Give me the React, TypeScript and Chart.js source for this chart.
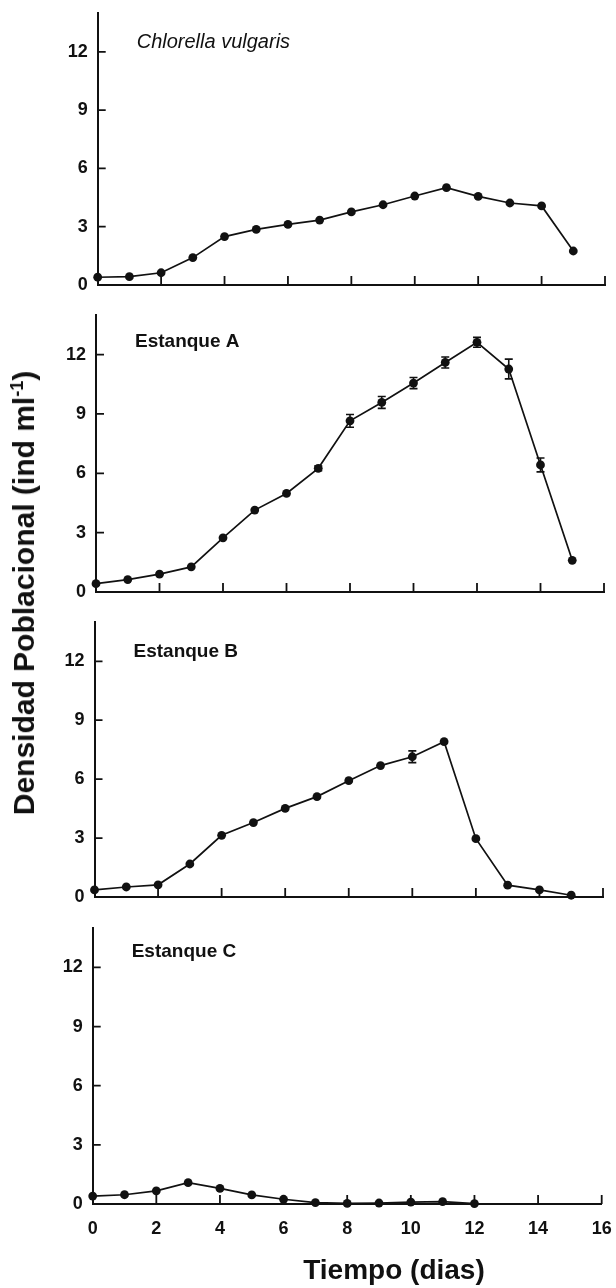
import React, { useEffect, useRef } from "react";
import { Chart, registerables } from "chart.js";

Chart.register(...registerables);

// ---------------- data ----------------
const days = [0, 1, 2, 3, 4, 5, 6, 7, 8, 9, 10, 11, 12, 13, 14, 15];
const daysC = [0, 1, 2, 3, 4, 5, 6, 7, 8, 9, 10, 11, 12];

const chlorellaValues = [0.4, 0.43, 0.63, 1.41, 2.49, 2.86, 3.12, 3.34, 3.76, 4.13, 4.58, 5.01, 4.56, 4.22, 4.07, 1.75];
const estanqueAValues = [0.42, 0.63, 0.9, 1.27, 2.74, 4.14, 4.98, 6.25, 8.65, 9.58, 10.56, 11.6, 12.62, 11.27, 6.42, 1.6];
const estanqueAErrors = [0, 0, 0, 0, 0, 0, 0, 0.12, 0.32, 0.3, 0.28, 0.28, 0.25, 0.5, 0.35, 0];
const estanqueBValues = [0.36, 0.51, 0.62, 1.68, 3.14, 3.79, 4.51, 5.11, 5.92, 6.69, 7.14, 7.91, 2.97, 0.6, 0.36, 0.09];
const estanqueBErrors = [0, 0, 0, 0, 0, 0, 0, 0, 0, 0, 0.3, 0, 0, 0, 0, 0];
const estanqueCValues = [0.4, 0.47, 0.67, 1.08, 0.79, 0.46, 0.24, 0.07, 0.03, 0.05, 0.1, 0.12, 0.02];

const xTickValues = [0, 2, 4, 6, 8, 10, 12, 14, 16];
const yTickValues = [0, 3, 6, 9, 12];
const xMax = 16;
const yMax = 14;

const panelLabels = ["Chlorella vulgaris", "Estanque A", "Estanque B", "Estanque C"];
const xTitle = "Tiempo (dias)";
const yTitleMain = "Densidad Poblacional (ind ml";
const yTitleSup = "-1";

// ---------------- style ----------------
const INK = "#111111";
const FAMILY = "'Liberation Sans', Arial, Helvetica, sans-serif";
const CANVAS_W = 660;

type PanelCfg = {
  xs: number[];
  values: number[];
  errors: number[] | null;
  label: string;
  italic: boolean;
  areaTop: number;
  areaBottom: number;
  left: number;
  right: number;
  labelDy: number;
  showX: boolean;
};

const panels: PanelCfg[] = [
  { xs: days, values: chlorellaValues, errors: null, label: panelLabels[0], italic: true, areaTop: 13, areaBottom: 285, left: 97.7, right: 605, labelDy: 29, showX: false },
  { xs: days, values: estanqueAValues, errors: estanqueAErrors, label: panelLabels[1], italic: false, areaTop: 315, areaBottom: 592, left: 96, right: 604, labelDy: 27, showX: false },
  { xs: days, values: estanqueBValues, errors: estanqueBErrors, label: panelLabels[2], italic: false, areaTop: 622, areaBottom: 897, left: 94.5, right: 603, labelDy: 30, showX: false },
  { xs: daysC, values: estanqueCValues, errors: null, label: panelLabels[3], italic: false, areaTop: 928, areaBottom: 1204, left: 92.7, right: 601.7, labelDy: 24, showX: true },
];

const decorPlugin = {
  id: "decor",
  beforeDatasetsDraw(chart: any, _args: any, opts: any) {
    const { ctx, chartArea: ca } = chart;
    const x = chart.scales.x;
    const y = chart.scales.y;
    ctx.save();
    ctx.strokeStyle = INK;
    ctx.lineWidth = 1.8;
    ctx.beginPath();
    for (const v of xTickValues) {
      if (v === 0) continue;
      const px = x.getPixelForValue(v);
      ctx.moveTo(px, ca.bottom);
      ctx.lineTo(px, ca.bottom - 9);
    }
    for (const v of yTickValues) {
      if (v === 0) continue;
      const py = y.getPixelForValue(v);
      ctx.moveTo(ca.left, py);
      ctx.lineTo(ca.left + 8, py);
    }
    ctx.stroke();

    const errs: number[] | null = opts.errors;
    if (errs) {
      const pts = chart.data.datasets[0].data;
      ctx.lineWidth = 1.6;
      ctx.beginPath();
      pts.forEach((p: any, i: number) => {
        const e = errs[i];
        if (!e) return;
        const px = x.getPixelForValue(p.x);
        const yHi = y.getPixelForValue(p.y + e);
        const yLo = y.getPixelForValue(Math.max(0, p.y - e));
        ctx.moveTo(px, yHi);
        ctx.lineTo(px, yLo);
        ctx.moveTo(px - 4, yHi);
        ctx.lineTo(px + 4, yHi);
        ctx.moveTo(px - 4, yLo);
        ctx.lineTo(px + 4, yLo);
      });
      ctx.stroke();
    }

    ctx.fillStyle = INK;
    ctx.textBaseline = "middle";
    ctx.textAlign = "left";
    ctx.font = opts.italic ? `italic 20px ${FAMILY}` : `bold 19px ${FAMILY}`;
    ctx.fillText(opts.label, ca.left + 39, ca.top + opts.labelDy);
    ctx.restore();
  },
};

function Panel({ cfg }: { cfg: PanelCfg }) {
  const ref = useRef<HTMLCanvasElement | null>(null);
  const canvasTop = cfg.areaTop - 30;
  const bottomPad = cfg.showX ? 0 : 30;
  const canvasH = cfg.showX ? 1298 - canvasTop : cfg.areaBottom - cfg.areaTop + 60;
  const xHeight = cfg.showX ? canvasH - 30 - (cfg.areaBottom - cfg.areaTop) : 0;

  useEffect(() => {
    if (!ref.current) return;
    const tickFont = { family: FAMILY, size: 18, weight: "bold" as const };
    const chart = new Chart(ref.current, {
      type: "line",
      data: {
        datasets: [
          {
            data: cfg.xs.map((d, i) => ({ x: d, y: cfg.values[i] })),
            borderColor: INK,
            borderWidth: 1.7,
            pointRadius: 4.4,
            pointBackgroundColor: INK,
            pointBorderColor: INK,
            pointBorderWidth: 0,
            tension: 0,
            clip: false as any,
          },
        ],
      },
      options: {
        responsive: false,
        animation: false,
        devicePixelRatio: 1,
        events: [],
        layout: { padding: { left: 0, top: 30, right: CANVAS_W - cfg.right, bottom: bottomPad } },
        plugins: {
          legend: { display: false },
          tooltip: { enabled: false },
          decor: { errors: cfg.errors, label: cfg.label, italic: cfg.italic, labelDy: cfg.labelDy },
        } as any,
        scales: {
          x: {
            type: "linear",
            min: 0,
            max: xMax,
            afterBuildTicks: (s: any) => {
              s.ticks = xTickValues.map((v) => ({ value: v }));
            },
            afterFit: (s: any) => {
              s.height = xHeight;
            },
            grid: { display: false, drawTicks: false },
            border: { display: true, color: INK, width: 2 },
            ticks: { display: cfg.showX, padding: 14, color: INK, font: tickFont, maxRotation: 0 },
          },
          y: {
            type: "linear",
            min: 0,
            max: yMax,
            afterBuildTicks: (s: any) => {
              s.ticks = yTickValues.map((v) => ({ value: v }));
            },
            afterFit: (s: any) => {
              s.width = cfg.left;
            },
            grid: { display: false, drawTicks: false },
            border: { display: true, color: INK, width: 2 },
            ticks: { padding: 10, color: INK, font: tickFont },
          },
        },
      },
      plugins: [decorPlugin as any],
    });
    return () => chart.destroy();
  }, []);

  return (
    <canvas
      ref={ref}
      width={CANVAS_W}
      height={canvasH}
      style={{ position: "absolute", left: 0, top: canvasTop, width: CANVAS_W, height: canvasH }}
    />
  );
}

export default function App() {
  return (
    <div style={{ position: "relative", width: 616, height: 1288, overflow: "hidden", background: "#fff" }}>
      <style>{`body{margin:0;background:#fff;}`}</style>
      {panels.map((p, i) => (
        <Panel key={i} cfg={p} />
      ))}
      <div
        style={{
          position: "absolute",
          left: 24,
          top: 593,
          transform: "translate(-50%,-50%) rotate(-90deg)",
          whiteSpace: "nowrap",
          fontFamily: FAMILY,
          fontWeight: "bold",
          fontSize: 30,
          lineHeight: 1,
          color: INK,
        }}
      >
        {yTitleMain}
        <sup style={{ fontSize: "0.6em", lineHeight: 0 }}>{yTitleSup}</sup>)
      </div>
      <div
        style={{
          position: "absolute",
          left: 394,
          top: 1270,
          transform: "translate(-50%,-50%)",
          whiteSpace: "nowrap",
          fontFamily: FAMILY,
          fontWeight: "bold",
          fontSize: 28,
          lineHeight: 1,
          color: INK,
        }}
      >
        {xTitle}
      </div>
    </div>
  );
}
